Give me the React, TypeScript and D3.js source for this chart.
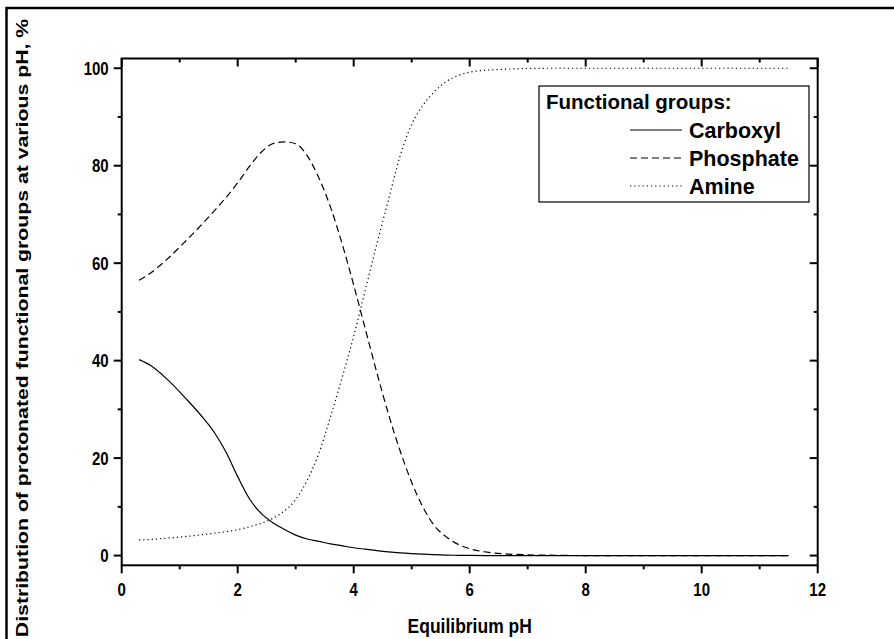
import React from "react";
import * as d3 from "d3";

const pH = [0.3, 0.5, 0.8, 1.1, 1.4, 1.6, 1.8, 2.0, 2.2, 2.4, 2.6, 2.8, 3.0, 3.2, 3.4, 3.6, 3.8, 4.0, 4.2, 4.4, 4.6, 4.8, 5.0, 5.2, 5.4, 5.6, 5.8, 6.0, 6.3, 6.6, 7.0, 7.5, 8.0, 9.0, 10.0, 11.0, 11.5];
const carboxyl = [40.2, 39.0, 36.0, 32.3, 28.3, 25.2, 21.2, 16.2, 11.7, 8.7, 6.8, 5.4, 4.2, 3.4, 2.9, 2.4, 2.0, 1.6, 1.3, 1.0, 0.75, 0.55, 0.4, 0.28, 0.18, 0.1, 0.05, 0.02, 0, 0, 0, 0, 0, 0, 0, 0, 0];
const phosphate = [56.5, 58.0, 61.0, 64.5, 68.2, 70.8, 73.5, 76.5, 79.8, 82.7, 84.5, 84.9, 84.5, 82.0, 77.5, 71.5, 64.0, 55.5, 46.5, 37.5, 29.0, 21.5, 15.0, 9.8, 6.0, 3.8, 2.3, 1.4, 0.7, 0.35, 0.15, 0.05, 0, 0, 0, 0, 0];
const amine = [3.2, 3.3, 3.6, 3.9, 4.3, 4.6, 4.9, 5.3, 5.9, 6.6, 7.6, 9.1, 11.5, 15.5, 21.0, 28.5, 36.5, 45.0, 54.5, 64.0, 73.0, 82.0, 88.5, 92.5, 95.3, 97.3, 98.5, 99.2, 99.6, 99.8, 99.95, 100, 100, 100, 100, 100, 100];

const xTicks = [0, 2, 4, 6, 8, 10, 12];
const xMinor = [1, 3, 5, 7, 9, 11];
const yTicks = [0, 20, 40, 60, 80, 100];
const yMinor = [10, 30, 50, 70, 90];

const seriesNames = ["Carboxyl", "Phosphate", "Amine"];
const legendTitle = "Functional groups:";
const xTitle = "Equilibrium pH";
const yTitle = "Distribution of protonated functional groups at various pH, %";

const FONT = "'Liberation Sans', Arial, sans-serif";

export default function App() {
  const W = 894, H = 639;
  const L = 121.7, R = 817.7, T = 58.5, B = 565.3;
  const x = d3.scaleLinear().domain([0, 12]).range([L, R]);
  const y = d3.scaleLinear().domain([-2, 102]).range([B, T]);
  const line = (vals: number[]) =>
    d3.line<number>()
      .x((_, i) => x(pH[i]))
      .y((v) => y(v))
      .curve(d3.curveMonotoneX)(vals) as string;

  const series = [
    { name: seriesNames[0], vals: carboxyl, dash: undefined as string | undefined },
    { name: seriesNames[1], vals: phosphate, dash: "7,4" },
    { name: seriesNames[2], vals: amine, dash: "1.2,3" },
  ];

  const major = 8, minor = 4;

  return (
    <svg width={W} height={H} style={{ position: "absolute", left: 0, top: 0, background: "#fff" }} fontFamily={FONT}>
      <rect x={0} y={0} width={W} height={H} fill="#fff" />
      {/* outer frame */}
      <rect x={6.5} y={8} width={W + 20} height={H + 20} fill="none" stroke="#000" strokeWidth={2.5} />

      {/* curves */}
      <g fill="none" stroke="#000" strokeWidth={1.2}>
        {series.map((s) => (
          <path key={s.name} d={line(s.vals)} strokeDasharray={s.dash} />
        ))}
      </g>

      {/* axes frame */}
      <rect x={L} y={T} width={R - L} height={B - T} fill="none" stroke="#000" strokeWidth={2} />

      {/* bottom ticks (outward) & top ticks (inward) */}
      <g stroke="#000" strokeWidth={2}>
        {xTicks.map((t) => (
          <g key={"xt" + t}>
            <line x1={x(t)} x2={x(t)} y1={B} y2={B + major} />
            <line x1={x(t)} x2={x(t)} y1={T} y2={T + major} />
          </g>
        ))}
        {xMinor.map((t) => (
          <g key={"xm" + t}>
            <line x1={x(t)} x2={x(t)} y1={B} y2={B + minor} />
            <line x1={x(t)} x2={x(t)} y1={T} y2={T + minor} />
          </g>
        ))}
        {yTicks.map((t) => (
          <g key={"yt" + t}>
            <line x1={L - major} x2={L} y1={y(t)} y2={y(t)} />
            <line x1={R - major} x2={R} y1={y(t)} y2={y(t)} />
          </g>
        ))}
        {yMinor.map((t) => (
          <g key={"ym" + t}>
            <line x1={L - minor} x2={L} y1={y(t)} y2={y(t)} />
            <line x1={R - minor} x2={R} y1={y(t)} y2={y(t)} />
          </g>
        ))}
      </g>

      {/* tick labels */}
      <g fontWeight="bold" fontSize={15} fill="#000">
        {xTicks.map((t) => (
          <text key={"xl" + t} transform={`translate(${x(t)},${B + 31}) scale(1,1.25)`} textAnchor="middle">{t}</text>
        ))}
        {yTicks.map((t) => (
          <text key={"yl" + t} transform={`translate(${L - 13},${y(t) + 6.5}) scale(1,1.25)`} textAnchor="end">{t}</text>
        ))}
      </g>

      {/* axis titles */}
      <text transform={`translate(${(L + R) / 2},${633}) scale(1,1.2)`} textAnchor="middle" fontWeight="bold" fontSize={17.5}>{xTitle}</text>
      <text transform={`translate(27.5,328) rotate(-90) scale(1.25,1)`} textAnchor="middle" fontWeight="bold" fontSize={17}>{yTitle}</text>

      {/* legend */}
      <g>
        <rect x={539} y={86} width={270} height={116} fill="#fff" stroke="#000" strokeWidth={1.2} />
        <text x={546} y={109} fontWeight="bold" fontSize={20.5}>{legendTitle}</text>
        {series.map((s, i) => (
          <g key={"lg" + s.name}>
            <line x1={630} x2={682} y1={130 + i * 28} y2={130 + i * 28} stroke="#000" strokeWidth={1.2} strokeDasharray={s.dash} />
            <text x={689} y={137.5 + i * 28} fontWeight="bold" fontSize={21.5}>{s.name}</text>
          </g>
        ))}
      </g>
    </svg>
  );
}
